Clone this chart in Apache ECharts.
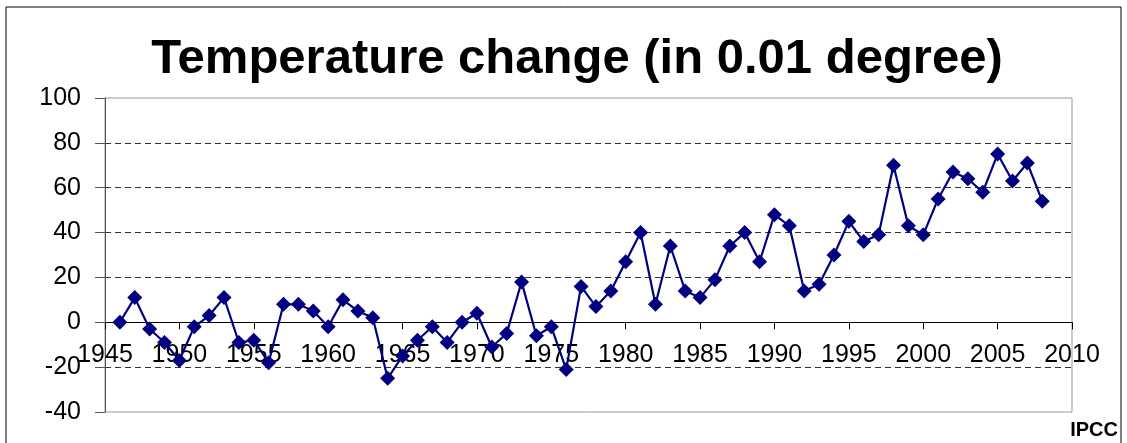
<!DOCTYPE html>
<html>
<head>
<meta charset="utf-8">
<script src="https://cdn.jsdelivr.net/npm/echarts@6/dist/echarts.min.js"></script>
<style>
  html, body { margin: 0; padding: 0; background: #fff; }
  #chart { width: 1127px; height: 443px; }
</style>
</head>
<body>
<div id="chart"></div>
<script>
// years on the x axis, one value per year (0.01 degree)
const years = [];
for (let y = 1946; y <= 2008; y++) years.push(y);

const tempChange = [
  0, 11, -3, -9, -17, -2, 3, 11, -9, -8,
  -18, 8, 8, 5, -2, 10, 5, 2, -25, -15,
  -8, -2, -9, 0, 4, -11, -5, 18, -6, -2,
  -21, 16, 7, 14, 27, 40, 8, 34, 14, 11,
  19, 34, 40, 27, 48, 43, 14, 17, 30, 45,
  36, 39, 70, 43, 39, 55, 67, 64, 58, 75,
  63, 71, 54
];

const xMin = 1945, xMax = 2010, xStep = 5;
const yMin = -40, yMax = 100, yStep = 20;

// plot box
const gTop = 98, gBottom = 31, gH = 443 - gTop - gBottom;
// move x axis up to value 0
const zeroOffset = -gH * (0 - yMin) / (yMax - yMin);

const chart = echarts.init(document.getElementById('chart'));

const option = {
  backgroundColor: '#fff',
  animation: false,
  textStyle: { fontFamily: 'Liberation Sans, Arial, sans-serif' },
  title: {
    text: 'Temperature change (in 0.01 degree)',
    left: 572,
    textAlign: 'center',
    top: 30,
    textStyle: { fontSize: 49, fontWeight: 'bold', color: '#000', fontFamily: 'Liberation Sans, Arial, sans-serif' }
  },
  graphic: [
    {
      type: 'rect',
      shape: { x: 6, y: 7, width: 1115, height: 450 },
      style: { fill: 'none', stroke: '#000', lineWidth: 1 },
      silent: true
    },
    {
      type: 'text',
      right: 9,
      bottom: 3,
      style: { text: 'IPCC', font: 'bold 20px Liberation Sans, Arial, sans-serif', fill: '#000' }
    }
  ],
  grid: {
    left: 105, right: 55, top: gTop, bottom: gBottom,
    outerBoundsMode: 'none',
    containLabel: false,
    show: true, borderColor: '#999', borderWidth: 1, backgroundColor: '#fff'
  },
  xAxis: {
    type: 'value',
    position: 'bottom',
    offset: zeroOffset,
    min: xMin, max: xMax, interval: xStep,
    axisLine: { onZero: false, lineStyle: { color: '#000', width: 1 } },
    axisTick: { show: true, length: 7, lineStyle: { color: '#000' } },
    axisLabel: {
      margin: 20, fontSize: 25, color: '#000',
      showMinLabel: true, showMaxLabel: true,
      formatter: v => String(v)
    },
    splitLine: { show: false }
  },
  yAxis: {
    type: 'value',
    min: yMin, max: yMax, interval: yStep,
    axisLine: { show: true, onZero: false, lineStyle: { color: '#555', width: 1 } },
    axisTick: { show: true, length: 10, lineStyle: { color: '#555' } },
    axisLabel: { margin: 24, fontSize: 25, color: '#000' },
    splitLine: {
      show: true, showMinLine: false, showMaxLine: false,
      lineStyle: { color: '#333', type: [6, 4], width: 1 }
    }
  },
  series: [
    {
      type: 'line',
      data: years.map((y, i) => [y, tempChange[i]]),
      symbol: 'diamond',
      symbolSize: 15,
      lineStyle: { color: '#000080', width: 2.2 },
      itemStyle: { color: '#000080' }
    }
  ]
};

chart.setOption(option);
</script>
</body>
</html>
